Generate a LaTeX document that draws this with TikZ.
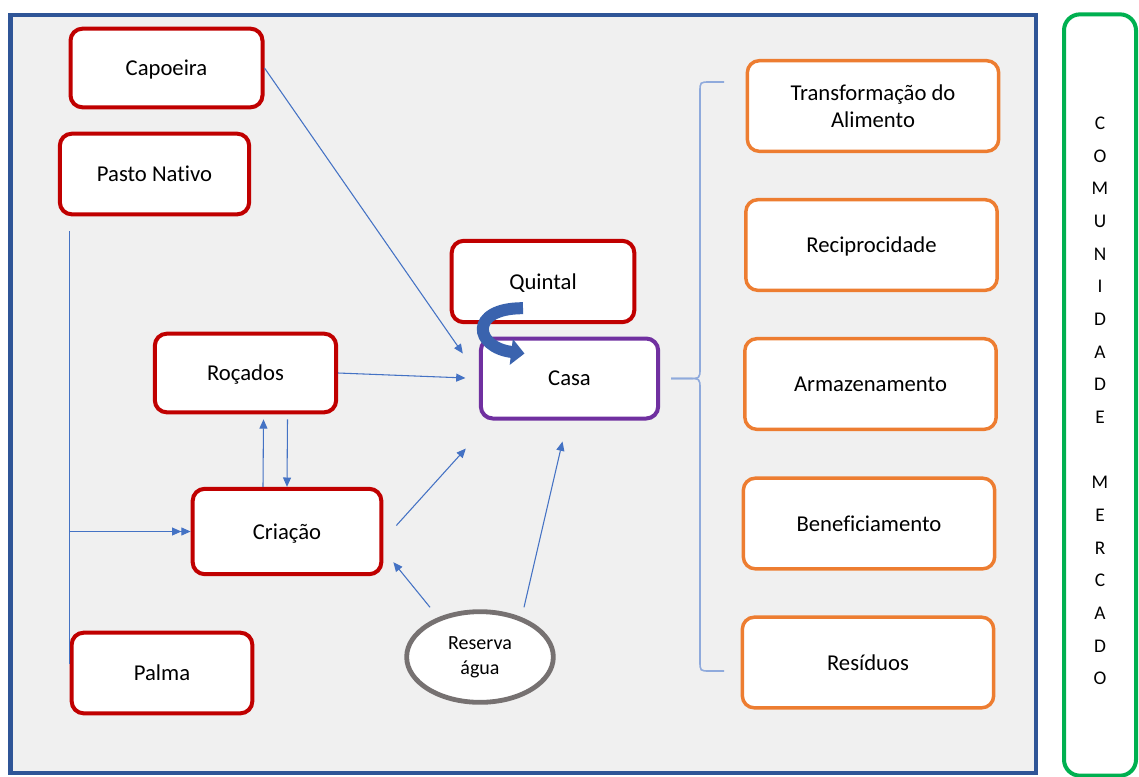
\documentclass[tikz,border=0pt]{standalone}
\usepackage{fontspec}
\setmainfont{Carlito}[Ligatures=NoCommon]
\usetikzlibrary{arrows.meta,shapes.geometric}

\definecolor{frame-blue}{HTML}{2F5597}
\definecolor{panel-gray}{HTML}{F0F0F0}
\definecolor{box-red}{HTML}{C00000}
\definecolor{box-purple}{HTML}{7030A0}
\definecolor{box-orange}{HTML}{ED7D31}
\definecolor{box-green}{HTML}{00B050}
\definecolor{ellipse-gray}{HTML}{767171}
\definecolor{link-blue}{HTML}{4472C4}
\definecolor{brace-blue}{HTML}{8FAADC}
\definecolor{loop-blue}{HTML}{3A63AE}

\tikzstyle{box}=[rectangle, rounded corners=9pt, line width=3pt, fill=white, inner sep=0pt, text depth=0pt, align=center, font=\fontsize{17}{20.5}\selectfont]
\tikzstyle{red-box}=[box, draw=box-red]
\tikzstyle{orange-box}=[box, draw=box-orange, line width=2.6pt, minimum width=188.5pt, minimum height=68pt]
\tikzstyle{link}=[draw=link-blue, line width=0.8pt, -{Triangle[length=7pt,width=6pt]}]
\tikzstyle{double-link}=[draw=link-blue, line width=0.8pt, -{Triangle[length=7pt,width=6pt,sep=0pt]Triangle[length=7pt,width=6pt]}]
\tikzstyle{plain-link}=[draw=link-blue, line width=0.8pt]
\tikzstyle{brace-line}=[draw=brace-blue, line width=1.2pt]
\tikzstyle{loop-arrow}=[draw=loop-blue, line width=9pt, -{Triangle[length=10pt,width=19pt]}]

\begin{document}
\begin{tikzpicture}[x=0.75pt, y=-0.75pt]
      \useasboundingbox (0,0) rectangle (1139,776);
      \clip (0,0) rectangle (1139,776);
      \draw[frame-blue, line width=3.4pt, fill=panel-gray] (10.5,15) rectangle (1036,773);

      % left column
      \node (capoeira) at (166.5, 68) [red-box, minimum width=144pt, minimum height=59pt] {Capoeira};
      \node (pasto) at (154.5, 174) [red-box, minimum width=142pt, minimum height=60.5pt] {Pasto Nativo};
      \node (rocados) at (245.5, 373) [red-box, minimum width=136pt, minimum height=59pt] {Roçados};
      \node (criacao) at (287, 531.5) [red-box, minimum width=141.5pt, minimum height=64pt] {Criação};
      \node (palma) at (162, 673) [red-box, minimum width=135.5pt, minimum height=60.5pt] {Palma};

      % centre
      \node (quintal) at (543, 281.5) [red-box, minimum width=137pt, minimum height=61pt] {Quintal};
      \node (casa) at (569.5, 378.5) [box, draw=box-purple, minimum width=133pt, minimum height=60pt] {Casa};
      \node (reserva) at (480, 657) [ellipse, draw=ellipse-gray, line width=3.6pt, fill=white, minimum width=110pt, minimum height=68pt, inner sep=0pt, align=center, font=\fontsize{15}{19}\selectfont] {Reserva\\água};

      % right column
      \node (transformacao) at (873, 106) [orange-box] {Transformação do\\Alimento};
      \node (reciprocidade) at (871.5, 245) [orange-box] {Reciprocidade};
      \node (armazenamento) at (870.5, 384) [orange-box] {Armazenamento};
      \node (beneficiamento) at (869, 523.5) [orange-box] {Beneficiamento};
      \node (residuos) at (868, 662.5) [orange-box] {Resíduos};

      \node (mercado) at (1100, 395) [draw=box-green, line width=3pt, rounded corners=12pt, fill=white, minimum width=54pt, minimum height=571pt, inner sep=0pt, align=center, font=\fontsize{14.5}{24.5}\selectfont]
            {\rule{0pt}{18.5pt}C\\O\\M\\U\\N\\I\\D\\A\\D\\E\\\mbox{}\\M\\E\\R\\C\\A\\D\\O};

      % links
      \draw[link] (capoeira.east) -- ([shift={(-16,17)}]casa.north west);
      \draw[link, shorten >=10pt] (rocados.east) -- (casa.west);
      \draw[link] ([shift={(13,-6)}]criacao.east) -- ([shift={(-13,28)}]casa.south west);
      \draw[link] ([shift={(44,-2)}]reserva.north) -- ([shift={(-7,21)}]casa.south);
      \draw[link] ([shift={(-50,-2)}]reserva.north) -- ([shift={(10,-14)}]criacao.south east);
      \draw[link] ([shift={(-24,0)}]criacao.north) -- ([shift={(18,5)}]rocados.south);
      \draw[link] ([shift={(42,5)}]rocados.south) -- (criacao.north);

      \coordinate (pasto-drop) at ([shift={(12,15)}]pasto.south west);
      \path (pasto-drop |- palma.west) ++(0,-9) coordinate (palma-drop);
      \draw[plain-link] (pasto-drop) -- (palma-drop);
      \draw[double-link] (pasto-drop |- criacao.west) -- (criacao.west);

      % brace to the right column
      \coordinate (brace-top) at (724, 82);
      \coordinate (brace-bottom) at (724, 671);
      \draw[brace-line] ([shift={(11,0)}]casa.east) -- (688, 378.5) .. controls (700, 378.5) .. (700, 368) -- (700, 92) .. controls (700, 82) .. (710, 82) -- (brace-top);
      \draw[brace-line] ([shift={(11,0)}]casa.east) -- (688, 378.5) .. controls (700, 378.5) .. (700, 389) -- (700, 661) .. controls (700, 671) .. (710, 671) -- (brace-bottom);

      % quintal feeds casa
      \draw[loop-arrow] ([shift={(-20,-16)}]quintal.south) .. controls +(-55,0) and +(-50,-6) .. ([shift={(-45,17)}]casa.north);
\end{tikzpicture}
\end{document}
